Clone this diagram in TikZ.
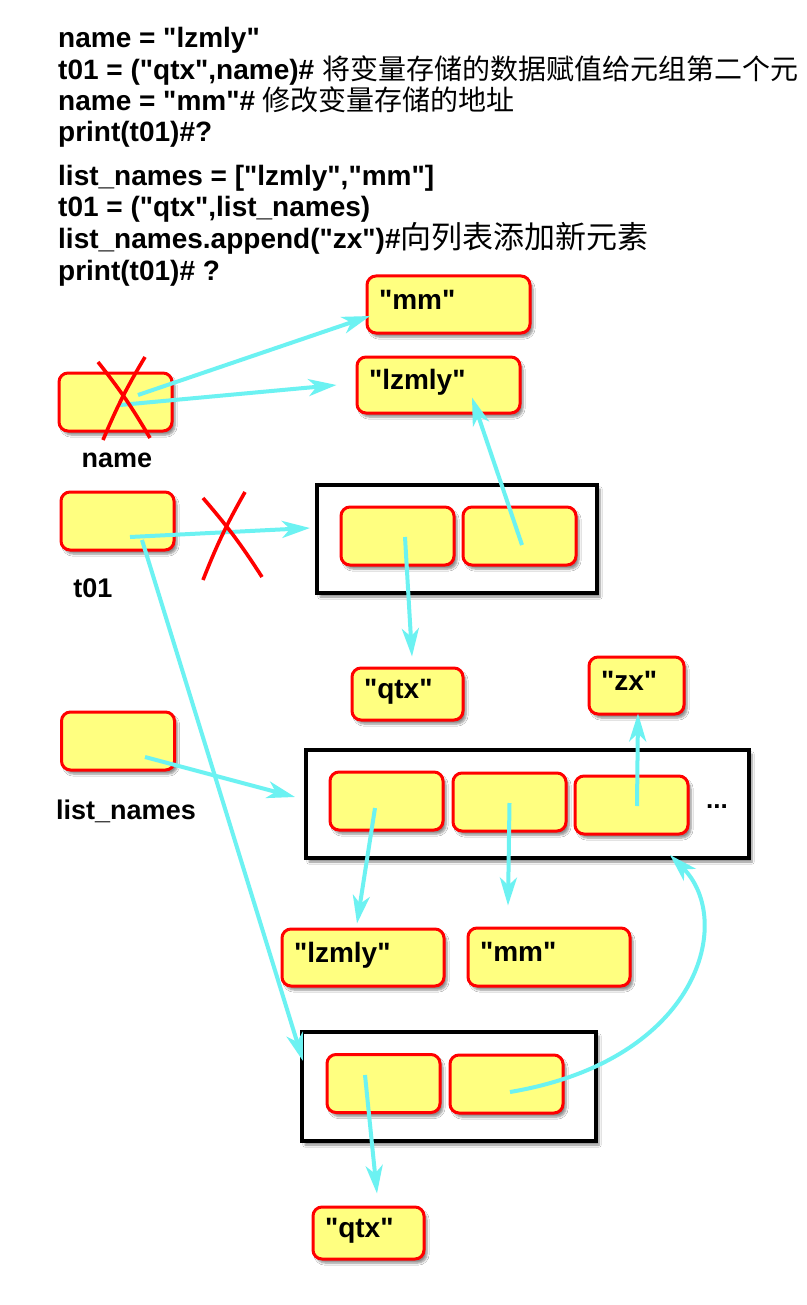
\documentclass[tikz,border=0pt]{standalone}
\usepackage{fontspec}
\setmainfont{Liberation Sans}[Ligatures=TeXOff]
\newfontfamily\cjk{Noto Sans CJK SC}
\usetikzlibrary{arrows.meta,shadows.blur}
\definecolor{boxyellow}{RGB}{255,255,128}
\definecolor{arrcyan}{RGB}{108,242,242}
\definecolor{xred}{RGB}{255,0,0}
\newcommand{\lft}[2]{\makebox[#1][l]{#2}}
\tikzset{
  code/.style={anchor=base west, inner sep=0pt, font=\fontsize{28}{30}\selectfont\bfseries},
  shad/.style={blur shadow={shadow xshift=3pt, shadow yshift=-4pt, shadow opacity=45, shadow blur steps=6}},
  cell/.style={draw=xred, line width=3pt, fill=boxyellow, rounded corners=9pt,
    minimum width=113pt, minimum height=58pt, inner sep=0pt, shad},
  valbox/.style={cell, minimum width=0pt, font=\fontsize{28}{30}\selectfont\bfseries,
    inner xsep=12pt, inner ysep=0pt, text height=15.4pt, text depth=5.9pt},
  frame/.style={draw=black, fill=white, line width=4pt, inner sep=0pt, shad},
  arr/.style={draw=arrcyan, line width=4pt, -{Stealth[length=28pt,width=17pt,inset=8pt]}},
  cross/.style={draw=xred, line width=3.6pt},
  lbl/.style={anchor=base, inner sep=0pt, font=\fontsize{27}{29}\selectfont\bfseries}
}
\begin{document}
\begin{tikzpicture}[x=1pt,y=-1pt]
\useasboundingbox (0,0) rectangle (806,1305);
\fill[white] (0,0) rectangle (806,1305);

% code text
\node[code] (c1) at (58,48) {name = "lzmly"};
\node[code] (c2) at (58,80) {t01 = ("qtx",name)\# {\cjk\mdseries 将变量存储的数据赋值给元组第二个元}};
\node[code] (c3) at (58,111) {name = "mm"\# {\cjk\mdseries 修改变量存储的地址}};
\node[code] (c4) at (58,142) {print(t01)\#?};
\node[code] (c5) at (58,186) {list\_names = ["lzmly","mm"]};
\node[code] (c6) at (58,217) {t01 = ("qtx",list\_names)};
\node[code] (c7) at (58,249) {list\_names.append("zx")\#{\cjk\mdseries\fontsize{31}{33}\selectfont 向列表添加新元素}};
\node[code] (c8) at (58,280) {print(t01)\# ?};

% frames
\node[frame, minimum width=280pt, minimum height=108pt] (tup1) at (457,539) {};
\node[frame, minimum width=443pt, minimum height=108pt] (lst) at (527.5,804) {};
\node[frame, minimum width=294pt, minimum height=109pt] (tup2) at (449,1086.5) {};

% variable boxes
\node[cell] (name) at (115.5,402) {};
\node[cell] (t01) at (117.5,521) {};
\node[cell] (lnames) at (118,741) {};
\node[lbl] (namel) at (117,467) {name};
\node[lbl] (t01l) at (93,597) {t01};
\node[lbl] (lnamesl) at (126,819) {list\_names};

% cells
\node[cell] (A) at (397.5,536) {};
\node[cell] (B) at (519.5,536) {};
\node[cell] (C) at (386.5,801) {};
\node[cell] (D) at (509.5,802) {};
\node[cell] (E) at (631.5,805) {};
\node[cell] (F) at (383.5,1083.5) {};
\node[cell] (G) at (506.5,1084) {};
\node[anchor=base west, inner sep=0pt, font=\fontsize{26}{28}\selectfont\bfseries] (dots) at (706,808) {...};

% value boxes
\node[valbox, minimum height=57pt] (mm1) at (448.5,304.5) {\lft{139pt}{"mm"}};
\node[valbox, minimum height=56pt] (lz1) at (438.5,385) {\lft{139pt}{"lzmly"}};
\node[valbox, minimum height=52pt] (qtx1) at (407.5,694) {\lft{87pt}{"qtx"}};
\node[valbox, minimum height=57pt] (zx) at (636.5,685.5) {\lft{71pt}{"zx"}};
\node[valbox, minimum height=57pt] (lz2) at (363,957.5) {\lft{138pt}{"lzmly"}};
\node[valbox, minimum height=58pt] (mm2) at (549,957) {\lft{138pt}{"mm"}};
\node[valbox, minimum height=52pt] (qtx2) at (368.5,1233) {\lft{87pt}{"qtx"}};

% arrows
\draw[arr] ([shift={(22.5,-7)}]name.center) -- ([shift={(-78.5,11.5)}]mm1.center);
\draw[arr] ([shift={(4.5,3)}]name.center) -- ([shift={(-19,0)}]lz1.west);
\draw[arr] ([shift={(12.5,16)}]t01.center) -- ([shift={(-5,-11)}]tup1.west);
\draw[arr] ([shift={(24.5,19)}]t01.center) -- ([shift={(3,31)}]tup2.north west);
\draw[arr] ([shift={(7.5,1)}]A.center) -- ([shift={(4.5,-10)}]qtx1.north);
\draw[arr] ([shift={(2.5,9)}]B.center) -- ([shift={(33.5,-17)}]lz1.south);
\draw[arr] ([shift={(27,16)}]lnames.center) -- ([shift={(-9,-7)}]lst.west);
\draw[arr] ([shift={(-11.5,7)}]C.center) -- ([shift={(-6,-4)}]lz2.north);
\draw[arr] ([shift={(0,1)}]D.center) -- ([shift={(-41,-21)}]mm2.north);
\draw[arr] ([shift={(5.5,1)}]E.center) -- ([shift={(1.5,-2)}]zx.south);
\draw[arr] ([shift={(3.5,8)}]G.center) .. controls (700,1060) and (735,920) .. ([shift={(-81,-5)}]lst.south east);
\draw[arr] ([shift={(-18.5,-8.5)}]F.center) -- ([shift={(8.5,-12)}]qtx2.north);

% red crosses
\draw[cross] (98,362) to[bend left=4] (150,438);
\draw[cross] (145,357) to[bend right=4] (103,440);
\draw[cross] (203,498) to[bend left=4] (262,577);
\draw[cross] (245,492) to[bend right=4] (203,580);
\end{tikzpicture}
\end{document}
